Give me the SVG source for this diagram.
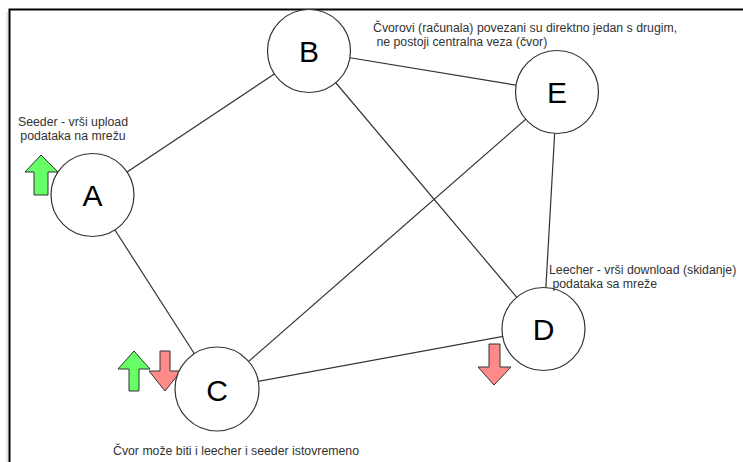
<svg xmlns="http://www.w3.org/2000/svg" width="743" height="462" viewBox="0 0 743 462">
<style>
.node{fill:#fff;stroke:#333;stroke-width:1.2}
.lbl{font-family:"Liberation Sans",Arial,sans-serif;font-size:30px;fill:#000;text-anchor:middle}
.note{font-family:"Liberation Sans",Arial,sans-serif;font-size:12.3px;fill:#333}
.edge{stroke:#333;stroke-width:1.2;fill:none}
.up{fill:#66ff66;stroke:#333;stroke-width:1}
.down{fill:#ff8a8a;stroke:#333;stroke-width:1}
</style>
<rect width="743" height="462" fill="#fff"/>
<path d="M9.5,462 V9.5 H743" fill="none" stroke="#000" stroke-width="2"/>
<line x1="7" y1="12" x2="7" y2="462" stroke="#ccc" stroke-width="1"/>
<g id="connectors">
<line class="edge" x1="92.5" y1="195" x2="309" y2="51"/>
<line class="edge" x1="92.5" y1="195" x2="217" y2="389"/>
<line class="edge" x1="217" y1="389" x2="557" y2="92"/>
<line class="edge" x1="217" y1="389" x2="543.5" y2="329"/>
<line class="edge" x1="309" y1="51" x2="543.5" y2="329"/>
<line class="edge" x1="309" y1="51" x2="557" y2="92"/>
<line class="edge" x1="557" y1="92" x2="543.5" y2="329"/>
</g>
<g id="arrows">
<polygon class="up" points="41,155 58,172 48,172 48,195 34,195 34,172 25,172"/>
<polygon class="up" points="134,351 150,369 139,369 139,391 129,391 129,369 118,369"/>
<polygon class="down" points="160,351 170,351 170,371 181,371 165,391 149,371 160,371"/>
<polygon class="down" points="489,344 500,344 500,367 511,367 494,385 478,367 489,367"/>
</g>
<g id="node-A"><circle class="node" cx="92.5" cy="195" r="41.5"/><text class="lbl" x="92.5" y="206">A</text></g>
<g id="node-B"><circle class="node" cx="309" cy="51" r="41.5"/><text class="lbl" x="309" y="62">B</text></g>
<g id="node-C"><circle class="node" cx="217" cy="389" r="42"/><text class="lbl" x="217" y="401">C</text></g>
<g id="node-D"><circle class="node" cx="543.5" cy="329" r="41.5"/><text class="lbl" x="543.5" y="340">D</text></g>
<g id="node-E"><circle class="node" cx="557" cy="92" r="41.5"/><text class="lbl" x="557" y="103">E</text></g>
<g id="notes">
<text class="note" x="73" y="126" text-anchor="middle">Seeder - vrši upload</text>
<text class="note" x="73" y="140" text-anchor="middle">podataka na mrežu</text>
<text class="note" x="373" y="32">Čvorovi (računala) povezani su direktno jedan s drugim,</text>
<text class="note" x="373" y="46" xml:space="preserve"> ne postoji centralna veza (čvor)</text>
<text class="note" x="549" y="274">Leecher - vrši download (skidanje)</text>
<text class="note" x="549" y="288" xml:space="preserve"> podataka sa mreže</text>
<text class="note" x="113" y="455">Čvor može biti i leecher i seeder istovremeno</text>
</g>
</svg>
